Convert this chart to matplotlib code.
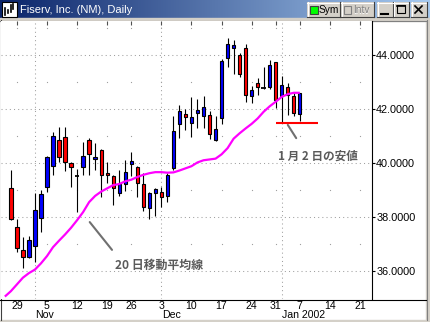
import numpy as np
import pandas as pd
import matplotlib
matplotlib.use('Agg')
import matplotlib.pyplot as plt
from matplotlib.patches import Rectangle
from matplotlib.colors import LinearSegmentedColormap

plt.rcParams['font.family'] = ['Liberation Sans', 'DejaVu Sans']

# ---- data ----
title = 'Fiserv, Inc. (NM), Daily'
holidays = ['2001-11-22', '2001-12-25', '2002-01-01']

# 20 day moving average, 2001-10-25 .. 2002-01-07
ma20 = [35.05, 35.25, 35.50, 35.75, 35.92, 36.05, 36.28, 36.55, 36.88, 37.12,
        37.35, 37.60, 37.88, 38.18, 38.55, 38.78, 38.94, 39.06, 39.18, 39.22,
        39.32, 39.38, 39.48, 39.56, 39.62, 39.66, 39.66, 39.64, 39.65, 39.72,
        39.80, 39.88, 40.02, 40.10, 40.13, 40.16, 40.32, 40.55, 40.90, 41.10,
        41.28, 41.45, 41.65, 41.90, 42.10, 42.27, 42.45, 42.55, 42.60, 42.60]

# candles, 2001-10-26 .. 2002-01-07
opens = [39.06, 37.64, 36.78, 36.51, 36.94, 37.95, 39.12, 39.89, 40.85, 40.95,
         39.99, 39.53, 39.84, 40.85, 40.14, 40.48, 39.62, 39.52, 38.88, 39.21,
         39.96, 39.86, 39.21, 38.32, 38.90, 38.94, 38.78, 39.83, 41.43, 41.80,
         41.49, 41.84, 41.75, 41.78, 40.85, 41.68, 43.90, 44.25, 44.00, 44.25,
         42.49, 42.98, 42.79, 42.80, 43.73, 42.49, 42.80, 42.48, 41.80]
highs = [39.74, 37.93, 37.25, 37.31, 38.90, 39.00, 40.26, 41.14, 41.35, 41.35,
         40.05, 39.77, 40.79, 40.94, 40.73, 40.50, 40.05, 39.56, 39.74, 40.11,
         40.42, 39.89, 39.62, 38.94, 39.09, 39.10, 39.64, 41.74, 42.15, 41.99,
         42.43, 42.36, 42.48, 41.93, 41.74, 43.84, 44.62, 44.56, 44.09, 44.40,
         42.85, 43.16, 43.55, 43.81, 43.75, 43.22, 42.98, 42.58, 42.60]
lows = [37.89, 36.69, 36.10, 36.48, 36.34, 37.46, 38.94, 39.56, 40.05, 39.72,
        39.12, 38.20, 39.56, 39.56, 39.74, 38.73, 39.27, 38.44, 38.78, 38.97,
        39.52, 38.73, 38.23, 37.91, 38.04, 38.36, 38.57, 39.74, 40.91, 41.22,
        40.98, 41.31, 41.29, 40.88, 40.83, 41.43, 43.57, 43.28, 43.20, 42.25,
        42.23, 42.52, 42.75, 42.73, 42.02, 41.47, 41.78, 41.74, 41.57]
closes = [37.93, 36.84, 36.51, 37.15, 38.26, 38.85, 40.21, 41.00, 40.21, 40.03,
          39.84, 39.53, 40.26, 40.32, 40.21, 39.54, 39.54, 39.06, 39.21, 39.65,
          40.07, 39.25, 38.36, 38.90, 39.03, 38.75, 39.56, 41.19, 41.93, 41.69,
          41.69, 41.96, 42.09, 41.06, 41.26, 43.78, 44.40, 44.37, 43.28, 42.52,
          42.70, 42.80, 42.79, 43.63, 42.33, 42.89, 42.52, 41.84, 42.58]

tick_dates = ['2001-10-29', '2001-11-05', '2001-11-12', '2001-11-19', '2001-11-26',
              '2001-12-03', '2001-12-10', '2001-12-17', '2001-12-24', '2001-12-31',
              '2002-01-07', '2002-01-14', '2002-01-21']
tick_labels = ['29', '5', '12', '19', '26', '3', '10', '17', '24', '31', '7', '14', '21']
month_starts = ['2001-11-01', '2001-12-03', '2002-01-02']
month_labels = ['Nov', 'Dec', 'Jan 2002']
price_levels = [36, 38, 40, 42, 44]
minor_levels = [37, 39, 41, 43, 45]
low_day = '2002-01-02'

# ---- trading day axis ----
cal = pd.bdate_range('2001-10-25', '2002-01-25')
cal = cal[~cal.isin(pd.to_datetime(holidays))]
origin = cal.get_loc(pd.Timestamp('2001-10-29'))
def pos(d):
    return cal.get_loc(pd.Timestamp(d)) - origin

ma_x = np.arange(len(ma20)) + pos('2001-10-25')
cx = np.arange(len(opens)) + pos('2001-10-26')

W, H = 430, 322
fig = plt.figure(figsize=(W / 100, H / 100), dpi=100, facecolor='white')

# ---- window chrome ----
ch = fig.add_axes([0, 0, 1, 1], zorder=0)
ch.axis('off')
grad = np.linspace(0, 1, 256).reshape(1, -1)
cmap = LinearSegmentedColormap.from_list('tb', ['#0a246a', '#a6caf0'])
ch.imshow(grad, cmap=cmap, extent=(0, W, 18, 0), aspect='auto', zorder=1)
ch.add_patch(Rectangle((0, 18), W, 3, color='#d4d0c8', zorder=1))
ch.plot([0, 426], [20.5, 20.5], color='#808080', lw=0.8, zorder=2)
ch.plot([0.5, 0.5], [20, 320], color='#404040', lw=0.8, zorder=2)
ch.add_patch(Rectangle((426, 18), 4, H - 18, color='#d4d0c8', zorder=1))
ch.plot([426.5, 426.5], [20, 320], color='#808080', lw=0.8, zorder=2)
ch.add_patch(Rectangle((0, 320), W, 2, color='#d4d0c8', zorder=1))
ch.plot([0, 426], [299.5, 299.5], color='black', lw=0.8, zorder=2)

def button(x0, w):
    y0, h = 2, 15
    ch.add_patch(Rectangle((x0, y0), w, h, facecolor='#d4d0c8', edgecolor='none', zorder=3))
    ch.plot([x0, x0 + w], [y0 + 0.5] * 2, color='white', lw=0.8, zorder=4)
    ch.plot([x0 + 0.5] * 2, [y0, y0 + h], color='white', lw=0.8, zorder=4)
    ch.plot([x0, x0 + w], [y0 + h - 0.5] * 2, color='#404040', lw=0.8, zorder=4)
    ch.plot([x0 + w - 0.5] * 2, [y0, y0 + h], color='#404040', lw=0.8, zorder=4)

button(307, 33)
ch.add_patch(Rectangle((310, 5.5), 8, 8, facecolor='#00ff00', edgecolor='#404040', lw=0.8, zorder=5))
ch.text(319, 10, 'Sym', fontsize=7.3, color='black', va='center', ha='left', zorder=5)
button(341, 33)
ch.add_patch(Rectangle((344, 5.5), 7, 8, facecolor='#d4d0c8', edgecolor='#808080', lw=0.8, zorder=5))
ch.text(353.6, 10.6, 'Intv', fontsize=7.3, color='white', va='center', ha='left', zorder=5)
ch.text(353, 10, 'Intv', fontsize=7.3, color='#808080', va='center', ha='left', zorder=6)
button(377, 16)
ch.plot([381, 388], [13.5, 13.5], color='black', lw=1.5, zorder=5)
button(393, 16)
ch.add_patch(Rectangle((397, 5), 8, 8, facecolor='none', edgecolor='black', lw=0.8, zorder=5))
ch.plot([397, 405], [5.5, 5.5], color='black', lw=1.2, zorder=5)
button(411, 16)
ch.plot([415, 422], [6, 13], color='black', lw=1.2, zorder=5)
ch.plot([415, 422], [13, 6], color='black', lw=1.2, zorder=5)

# title icon and text
ch.add_patch(Rectangle((2, 2), 15, 15, facecolor='white', edgecolor='black', lw=0.8, zorder=3))
for bx, b0, b1 in [(5, 8, 15), (8, 10, 13), (10.5, 5, 12), (13, 4, 9)]:
    ch.plot([bx, bx], [b0, b1], color='black', lw=1.2, zorder=4)
ch.text(20, 9.5, title, fontsize=8, color='white', va='center', ha='left', zorder=3)
ch.set_xlim(0, W)
ch.set_ylim(H, 0)

# ---- price chart ----
ax = fig.add_axes([1 / W, 1 - 299 / H, 371 / W, 278 / H], zorder=2)
ax.set_facecolor('white')
ax.set_xlim(-2.64, 58.99)
ax.set_ylim(34.96, 45.26)

grid_kw = dict(color='#a0a0a0', lw=0.75, ls=(0, (1, 3)), zorder=1)
for p in price_levels:
    ax.axhline(p, **grid_kw)
for d in month_starts:
    ax.axvline(pos(d), **grid_kw)
week_x = [pos(d) for d in tick_dates]
gx, gy = np.meshgrid(week_x, minor_levels)
ax.plot(gx.ravel(), gy.ravel(), 's', ms=0.8, mew=0, color='#a0a0a0', zorder=1)

o = np.array(opens)
c = np.array(closes)
ax.vlines(cx, lows, highs, color='black', lw=0.8, zorder=3)
body = c != o
ax.bar(cx[body], np.abs(c - o)[body], bottom=np.minimum(o, c)[body], width=0.55,
       color=np.where(c > o, '#0000ff', '#ff0000')[body], edgecolor='black',
       linewidth=0.8, zorder=4)
ax.hlines(c[~body], cx[~body] - 0.4, cx[~body] + 0.4, color='black', lw=1.3, zorder=4)

ax.plot(ma_x, ma20, color='#ff00ff', lw=1.6, zorder=5, solid_capstyle='butt')

i_low = pos(low_day) - pos('2001-10-26')
ax.hlines(lows[i_low], pos(low_day) - 1, pos(low_day) + 6, color='#ff0000', lw=1.5, zorder=5)

ann_kw = dict(arrowprops=dict(arrowstyle='-', color='#707070', lw=1.5, shrinkA=0, shrinkB=0))
ax.annotate('', xy=(15.8, 36.78), xytext=(12.1, 37.81), **ann_kw)
ax.annotate('', xy=(46.4, 40.92), xytext=(45.0, 41.41), **ann_kw)
cjk = ['Noto Sans CJK JP', 'DejaVu Sans']
ax.text(16.3, 36.19, '20 日移動平均線', family=cjk, fontsize=8.6, color='#5a5a5a',
        weight='bold', va='center', ha='left', zorder=6)
ax.text(43.3, 40.26, '1 月 2 日の安値', family=cjk, fontsize=8.4, color='#5a5a5a',
        weight='bold', va='center', ha='left', zorder=6)

ax.yaxis.tick_right()
ax.set_yticks(price_levels)
ax.set_yticklabels([f'{v:.4f}' for v in price_levels])
ax.tick_params(axis='y', length=2.5, width=0.8, pad=0.5, labelsize=7.8, colors='black')

ax.set_xticks(week_x)
ax.set_xticklabels(tick_labels)
ax.tick_params(axis='x', top=True, bottom=False, direction='in', length=3, width=0.8,
               color='#505050', labelsize=7.6, pad=1.5)
for d, lab in zip(month_starts, month_labels):
    ax.text(pos(d) + 0.1, -0.058, lab, transform=ax.get_xaxis_transform(),
            fontsize=7.6, va='center', ha='left')

for s in ['top', 'left']:
    ax.spines[s].set_visible(False)
ax.spines['right'].set_color('black')
ax.spines['right'].set_linewidth(0.8)
ax.spines['bottom'].set_visible(False)

fig.savefig('out.png', dpi=100)
